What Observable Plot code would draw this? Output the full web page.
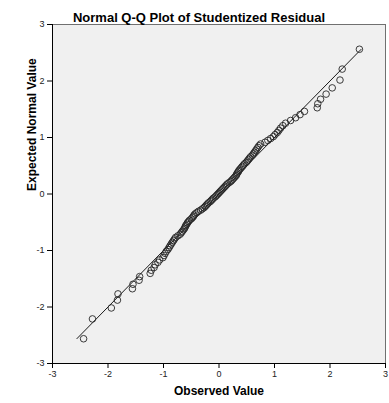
<!DOCTYPE html>
<html>
<head>
<meta charset="utf-8">
<script src="https://cdn.jsdelivr.net/npm/d3@7"></script>
<script src="https://cdn.jsdelivr.net/npm/@observablehq/plot@0.6"></script>
<style>
  html, body { margin: 0; padding: 0; background: #fff; }
</style>
</head>
<body>
<div id="chart"></div>
<script>
// Studentized residuals (observed, sorted) against their expected normal values
const observed = [
  -2.44, -2.28, -1.94, -1.83, -1.82, -1.56, -1.55, -1.44, -1.43, -1.24,
  -1.22, -1.17, -1.15, -1.10, -1.07, -1.01, -0.99, -0.97, -0.95, -0.92,
  -0.90, -0.88, -0.86, -0.84, -0.82, -0.80, -0.78, -0.74, -0.70, -0.68,
  -0.66, -0.64, -0.62, -0.61, -0.60, -0.58, -0.57, -0.55, -0.53, -0.50,
  -0.48, -0.46, -0.45, -0.43, -0.40, -0.37, -0.33, -0.30, -0.27, -0.25,
  -0.23, -0.21, -0.19, -0.16, -0.14, -0.12, -0.10, -0.07, -0.05, -0.03,
  -0.01, 0.01, 0.03, 0.05, 0.07, 0.09, 0.11, 0.13, 0.15, 0.18,
  0.21, 0.23, 0.25, 0.27, 0.29, 0.31, 0.32, 0.33, 0.35, 0.36,
  0.38, 0.40, 0.42, 0.44, 0.46, 0.49, 0.51, 0.53, 0.55, 0.57,
  0.60, 0.62, 0.64, 0.66, 0.68, 0.70, 0.72, 0.75, 0.83, 0.88,
  0.93, 0.98, 1.01, 1.05, 1.08, 1.11, 1.15, 1.20, 1.29, 1.38,
  1.46, 1.54, 1.77, 1.78, 1.83, 1.93, 2.04, 2.18, 2.22, 2.53
];

const expected = [
  -2.5620, -2.2110, -2.0170, -1.8782, -1.7680, -1.6768, -1.5974, -1.5264, -1.4618, -1.4048,
  -1.3499, -1.3008, -1.2531, -1.2091, -1.1663, -1.1265, -1.0882, -1.0510, -1.0156, -0.9813,
  -0.9480, -0.9160, -0.8847, -0.8540, -0.8246, -0.7957, -0.7675, -0.7397, -0.7126, -0.6859,
  -0.6598, -0.6341, -0.6088, -0.5839, -0.5595, -0.5352, -0.5113, -0.4876, -0.4643, -0.4412,
  -0.4183, -0.3957, -0.3733, -0.3512, -0.3290, -0.3070, -0.2852, -0.2637, -0.2421, -0.2207,
  -0.1993, -0.1782, -0.1571, -0.1359, -0.1149, -0.0939, -0.0730, -0.0521, -0.0313, -0.0104,
  0.0104, 0.0313, 0.0521, 0.0730, 0.0939, 0.1149, 0.1359, 0.1571, 0.1782, 0.1993,
  0.2207, 0.2421, 0.2637, 0.2852, 0.3070, 0.3290, 0.3512, 0.3733, 0.3957, 0.4183,
  0.4412, 0.4643, 0.4876, 0.5113, 0.5352, 0.5595, 0.5839, 0.6088, 0.6341, 0.6598,
  0.6859, 0.7126, 0.7397, 0.7675, 0.7957, 0.8246, 0.8540, 0.8847, 0.9160, 0.9480,
  0.9813, 1.0156, 1.0510, 1.0882, 1.1265, 1.1663, 1.2091, 1.2531, 1.3008, 1.3499,
  1.4048, 1.4618, 1.5264, 1.5974, 1.6768, 1.7680, 1.8782, 2.0170, 2.2110, 2.5620
];

// Reference line endpoints (y = x across the data range)
const refLine = [-2.56, 2.56];

const xTicks = [-3, -2, -1, 0, 1, 2, 3];
const yTicks = [-3, -2, -1, 0, 1, 2, 3];

const titleText = "Normal Q-Q Plot of Studentized Residual";
const xLabel = "Observed Value";
const yLabel = "Expected Normal Value";

const points = observed.map((o, i) => ({observed: o, expected: expected[i]}));

const font = "'Liberation Sans', Arial, Helvetica, sans-serif";
const tickFormat = d => String(d); // plain hyphen-minus, integer labels

const chart = Plot.plot({
  width: 389,
  height: 403,
  marginTop: 24,
  marginLeft: 52,
  marginRight: 4,
  marginBottom: 40,
  style: {fontFamily: font, background: "#fff", overflow: "visible"},
  x: {domain: [-3, 3]},
  y: {domain: [-3, 3]},
  marks: [
    Plot.frame({fill: "#f0f0f0", stroke: "#707070", strokeWidth: 1}),
    Plot.axisX(xTicks, {tickSize: 5, tickPadding: 2, fontSize: 9, label: null, tickFormat, stroke: "#000", fill: "#222"}),
    Plot.axisY(yTicks, {tickSize: 5, tickPadding: 3, fontSize: 9, label: null, tickFormat, stroke: "#000", fill: "#222"}),
    Plot.ruleX([-3], {stroke: "#000", strokeWidth: 1}),
    Plot.ruleY([-3], {stroke: "#000", strokeWidth: 1}),
    Plot.line(refLine, {x: d => d, y: d => d, stroke: "#1a1a1a", strokeWidth: 1}),
    Plot.dot(points, {x: "observed", y: "expected", r: 3.3, stroke: "#262626", strokeWidth: 0.9, fill: "none"}),
    Plot.text([titleText], {text: d => d, frameAnchor: "top", dx: -20, dy: -12, fontSize: 13, fontWeight: "bold", fill: "#000"}),
    Plot.text([xLabel], {text: d => d, frameAnchor: "bottom", dy: 31, fontSize: 12, fontWeight: "bold", fill: "#000"}),
    Plot.text([yLabel], {text: d => d, frameAnchor: "left", dx: -20, dy: -3, rotate: -90, fontSize: 12, fontWeight: "bold", fill: "#000"})
  ]
});

document.getElementById("chart").appendChild(chart);
</script>
</body>
</html>
